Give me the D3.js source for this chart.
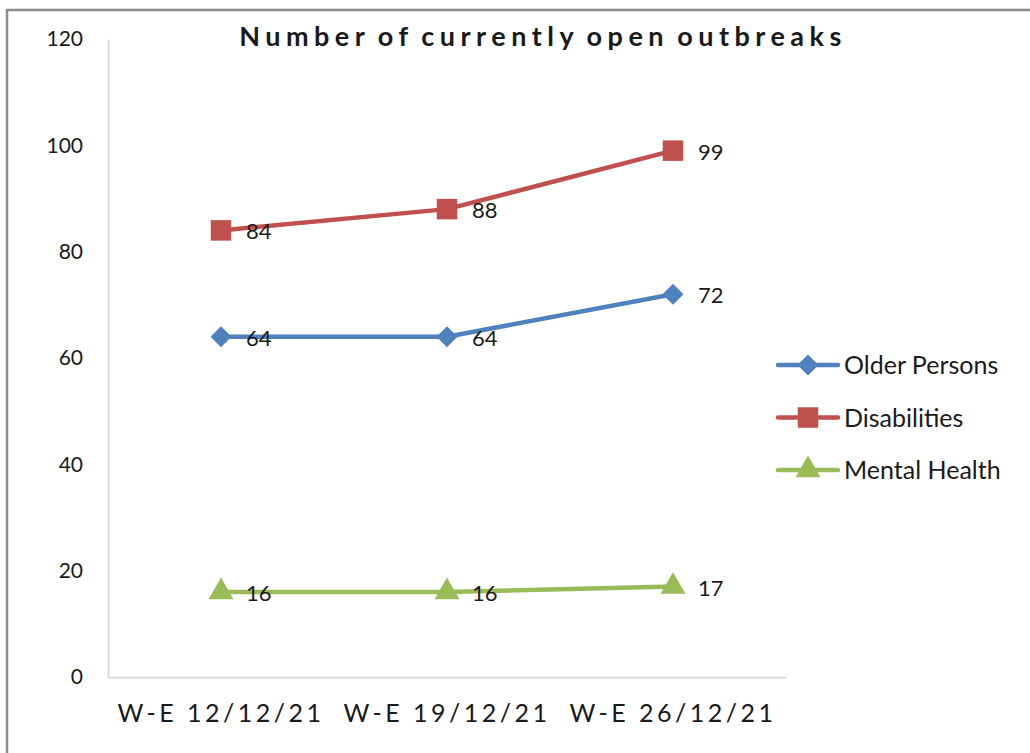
<!DOCTYPE html>
<html>
<head>
<meta charset="utf-8">
<script src="https://cdn.jsdelivr.net/npm/d3@7"></script>
<style>
  body { margin: 0; background: #fff; }
  text { font-family: Lato, "Open Sans", sans-serif; fill: #1a1a1a; }
</style>
</head>
<body>
<div class="chart"></div>
<script>
const categories = ['W-E 12/12/21', 'W-E 19/12/21', 'W-E 26/12/21'];
const olderPersons = [64, 64, 72];
const disabilities = [84, 88, 99];
const mentalHealth = [16, 16, 17];
const yTicks = [0, 20, 40, 60, 80, 100, 120];

const series = [
  {name: 'Older Persons', values: olderPersons, color: '#4F81BD', symbol: d3.symbolDiamond2, size: 280},
  {name: 'Disabilities', values: disabilities, color: '#C0504D', symbol: d3.symbolSquare, size: 420},
  {name: 'Mental Health', values: mentalHealth, color: '#9BBB59', symbol: d3.symbolTriangle, size: 270}
];

const width = 1030, height = 753;
const margin = {top: 39, right: 244, bottom: 76, left: 108};

let svg = d3.select('.chart')
  .append('svg')
    .attr('width', width)
    .attr('height', height);

// outer frame (only top and left visible)
svg.append('path')
  .attr('d', `M7,${height} V10 H${width}`)
  .style('fill', 'none')
  .style('stroke', '#8c8c8c')
  .style('stroke-width', 2.5);

let xScale = d3.scaleBand()
  .domain(categories)
  .range([margin.left, width - margin.right]);

let yScale = d3.scaleLinear()
  .domain([0, 120])
  .range([height - margin.bottom, margin.top]);

let cx = d => xScale(d) + xScale.bandwidth() / 2;

// axes
let yAxis = d3.axisLeft(yScale)
  .tickValues(yTicks)
  .tickSize(0)
  .tickPadding(25);
let gy = svg.append('g')
  .attr('transform', `translate(${margin.left}, 0)`)
  .call(yAxis);
gy.select('.domain').style('stroke', '#d9d9d9').style('stroke-width', 2);
gy.selectAll('text').style('font-size', '21px').style('fill', '#1a1a1a');

let xAxis = d3.axisBottom(xScale)
  .tickSize(0)
  .tickPadding(27);
let gx = svg.append('g')
  .attr('transform', `translate(0, ${height - margin.bottom})`)
  .call(xAxis);
gx.select('.domain').style('stroke', '#d9d9d9').style('stroke-width', 2);
gx.selectAll('text')
  .style('font-size', '25px')
  .style('letter-spacing', '3.5px')
  .style('fill', '#1a1a1a');

// title
svg.append('text')
  .attr('x', 543)
  .attr('y', 46)
  .attr('text-anchor', 'middle')
  .style('font-size', '27px')
  .style('font-weight', 'bold')
  .style('letter-spacing', '5.5px')
  .style('word-spacing', '-4px')
  .text('Number of currently open outbreaks');

// lines
let line = d3.line()
  .x((d, i) => cx(categories[i]))
  .y(d => yScale(d));

series.forEach(s => {
  svg.append('path')
    .datum(s.values)
    .attr('d', line)
    .style('fill', 'none')
    .style('stroke', s.color)
    .style('stroke-width', 4.5)
    .style('stroke-linejoin', 'round');

  svg.selectAll(null)
    .data(s.values)
    .enter()
    .append('path')
      .attr('transform', (d, i) => `translate(${cx(categories[i])}, ${yScale(d)})`)
      .attr('d', d3.symbol().type(s.symbol).size(s.size))
      .style('fill', s.color);

  svg.selectAll(null)
    .data(s.values)
    .enter()
    .append('text')
      .attr('x', (d, i) => cx(categories[i]) + 25)
      .attr('y', d => yScale(d) + 9)
      .style('font-size', '22px')
      .text(d => d);
});

// legend
let legend = svg.append('g')
  .attr('transform', 'translate(778, 365)');
series.forEach((s, i) => {
  let g = legend.append('g').attr('transform', `translate(0, ${i * 52.5})`);
  g.append('line')
    .attr('x1', 0).attr('x2', 60)
    .style('stroke', s.color)
    .style('stroke-width', 4.5)
    .style('stroke-linecap', 'round');
  g.append('path')
    .attr('transform', 'translate(30, 0)')
    .attr('d', d3.symbol().type(s.symbol).size(s.size))
    .style('fill', s.color);
  g.append('text')
    .attr('x', 66)
    .attr('y', 9)
    .style('font-size', '25px')
    .text(s.name);
});
</script>
</body>
</html>
